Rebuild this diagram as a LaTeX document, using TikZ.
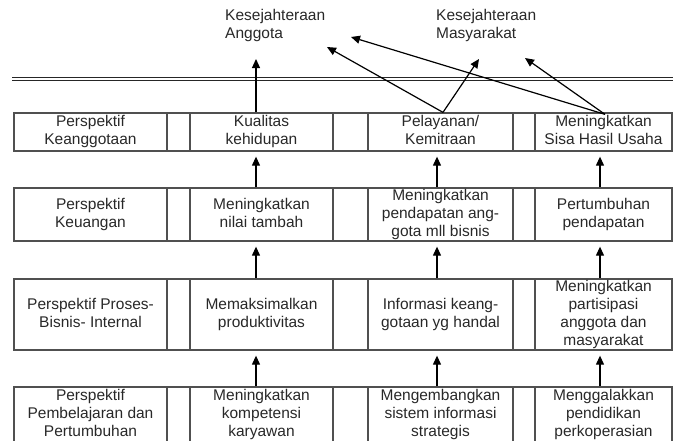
\documentclass[tikz,border=0pt]{standalone}
\usepackage{fontspec}
\setmainfont{Liberation Sans}
\usetikzlibrary{arrows.meta}
\definecolor{boxgray}{RGB}{80,80,80}
\definecolor{textcol}{RGB}{40,40,40}
\begin{document}
\begin{tikzpicture}[x=1pt,y=-1pt,
  cell/.style={draw=boxgray, line width=1.3pt, rectangle, inner sep=0pt, align=center,
    font=\fontsize{15.5}{18}\selectfont, text=textcol, text depth=4pt},
  arr/.style={draw=black, line width=1.2pt, -{Triangle[length=9pt,width=8pt]}},
  lbl/.style={inner sep=0pt, align=left, font=\fontsize{15.5}{18}\selectfont, text=textcol},
  c1/.style={cell, minimum width=153pt},
  g1/.style={cell, minimum width=23pt},
  c2/.style={cell, minimum width=143pt},
  g2/.style={cell, minimum width=35pt},
  c3/.style={cell, minimum width=145pt},
  g3/.style={cell, minimum width=22pt},
  c4/.style={cell, minimum width=137pt}]
\useasboundingbox (0,0) rectangle (673,440);
\clip (0,0) rectangle (673,440);

% double rule
\draw[black!85, line width=1.2pt] (12,77.8) -- (673,77.8);
\draw[black!85, line width=1.2pt] (12,80.4) -- (673,80.4);

% top labels
\node[lbl, anchor=north west] (ka) at (225,9) {Kesejahteraan\\Anggota};
\node[lbl, anchor=north west] (km) at (436,9) {Kesejahteraan\\Masyarakat};

% row 1
\begin{scope}[every node/.append style={minimum height=38pt}]
\node[c1] (r1c1) at (90.5,132) {Perspektif\\Keanggotaan};
\node[g1] (r1g1) at (178.5,132) {};
\node[c2] (r1c2) at (261.5,132) {Kualitas\\kehidupan};
\node[g2] (r1g2) at (350.5,132) {};
\node[c3] (r1c3) at (440.5,132) {Pelayanan/\\Kemitraan};
\node[g3] (r1g3) at (524,132) {};
\node[c4] (r1c4) at (603.5,132) {Meningkatkan\\Sisa Hasil Usaha};
\end{scope}

% row 2
\begin{scope}[every node/.append style={minimum height=53pt}]
\node[c1] (r2c1) at (90.5,214.5) {Perspektif\\Keuangan};
\node[g1] (r2g1) at (178.5,214.5) {};
\node[c2] (r2c2) at (261.5,214.5) {Meningkatkan\\nilai tambah};
\node[g2] (r2g2) at (350.5,214.5) {};
\node[c3] (r2c3) at (440.5,214.5) {Meningkatkan\\pendapatan ang-\\gota mll bisnis};
\node[g3] (r2g3) at (524,214.5) {};
\node[c4] (r2c4) at (603.5,214.5) {Pertumbuhan\\pendapatan};
\end{scope}

% row 3
\begin{scope}[every node/.append style={minimum height=71pt}]
\node[c1] (r3c1) at (90.5,314.5) {Perspektif Proses-\\Bisnis- Internal};
\node[g1] (r3g1) at (178.5,314.5) {};
\node[c2] (r3c2) at (261.5,314.5) {Memaksimalkan\\produktivitas};
\node[g2] (r3g2) at (350.5,314.5) {};
\node[c3] (r3c3) at (440.5,314.5) {Informasi keang-\\gotaan yg handal};
\node[g3] (r3g3) at (524,314.5) {};
\node[c4] (r3c4) at (603.5,314.5) {Meningkatkan\\partisipasi\\anggota dan\\masyarakat};
\end{scope}

% row 4
\begin{scope}[every node/.append style={minimum height=56pt, text depth=8pt}]
\node[c1] (r4c1) at (90.5,415) {Perspektif\\Pembelajaran dan\\Pertumbuhan};
\node[g1] (r4g1) at (178.5,415) {};
\node[c2] (r4c2) at (261.5,415) {Meningkatkan\\kompetensi\\karyawan};
\node[g2] (r4g2) at (350.5,415) {};
\node[c3] (r4c3) at (440.5,415) {Mengembangkan\\sistem informasi\\strategis};
\node[g3] (r4g3) at (524,415) {};
\node[c4] (r4c4) at (603.5,415) {Menggalakkan\\pendidikan\\perkoperasian};
\end{scope}

% vertical arrows between rows
\foreach \lo/\hi in {2/1,3/2,4/3}{
  \draw[arr] ([xshift=-5.5pt]r\lo c2.north) -- ([xshift=-5.5pt,yshift=-5pt]r\hi c2.south);
  \draw[arr] ([xshift=-3.5pt]r\lo c3.north) -- ([xshift=-3.5pt,yshift=-5pt]r\hi c3.south);
  \draw[arr] ([xshift=-3.5pt]r\lo c4.north) -- ([xshift=-3.5pt,yshift=-5pt]r\hi c4.south);
}

% arrows to the goals
\coordinate (kTip) at (256,59);
\coordinate (aTip1) at (327,47);
\coordinate (aTip2) at (351,37);
\coordinate (mTip1) at (479,59);
\coordinate (mTip2) at (525,58);
\coordinate (pApex) at ([xshift=2.5pt]r1c3.north);
\coordinate (sApex) at ([xshift=1.5pt,yshift=-2pt]r1c4.north);
\draw[arr] ([xshift=-5.5pt]r1c2.north) -- (kTip);
\draw[arr] (pApex) -- (aTip1);
\draw[arr] (pApex) -- (mTip1);
\draw[arr] (sApex) -- (aTip2);
\draw[arr] (sApex) -- (mTip2);
\end{tikzpicture}
\end{document}
